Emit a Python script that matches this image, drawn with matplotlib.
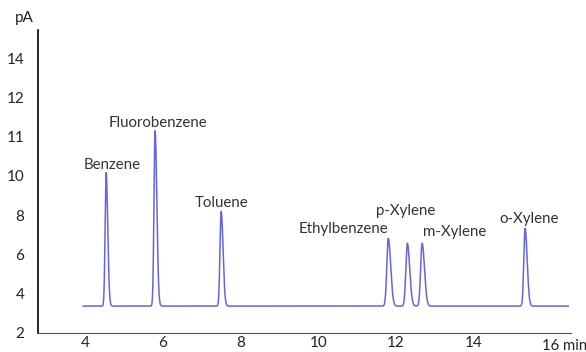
import numpy as np
import matplotlib
matplotlib.use("Agg")
import matplotlib.pyplot as plt

# Peak table (retention time in min, apex on the axis scale)
compounds = ['Benzene', 'Fluorobenzene', 'Toluene', 'Ethylbenzene', 'p-Xylene', 'm-Xylene', 'o-Xylene']
ret_times = [4.54, 5.80, 7.50, 11.80, 12.29, 12.67, 15.32]
apex = [10.17, 12.30, 8.19, 6.82, 6.57, 6.57, 7.33]
widths = [0.026, 0.028, 0.030, 0.038, 0.038, 0.038, 0.033]
baseline = 3.37
run_start, run_end = 3.95, 16.43

# where each label sits (time, height)
label_x = [4.69, 5.88, 7.50, 10.64, 12.24, 13.52, 15.43]
label_y = [10.55, 12.70, 8.60, 7.30, 8.20, 7.15, 7.80]

# the y axis is evenly spaced but labelled oddly
ytick_pos = [2, 4, 6, 8, 10, 12, 14, 16]
ytick_lab = ['2', '4', '6', '8', '10', '11', '12', '14']
xtick_pos = [4, 6, 8, 10, 12, 14]
xtick_lab = ['4', '6', '8', '10', '12', '14']
last_tick, last_lab = 16, '16 min'

plt.rcParams['font.family'] = ['Lato', 'DejaVu Sans']

t = np.linspace(run_start, run_end, 6000)
signal = np.full_like(t, baseline)
for rt, h, w in zip(ret_times, apex, widths):
    # slight tailing on the back side of each peak
    s = np.where(t < rt, w, w * 1.6)
    signal += (h - baseline) * np.exp(-0.5 * ((t - rt) / s) ** 2)

fig = plt.figure(figsize=(5.86, 3.52), dpi=100)
ax = fig.add_axes([0.065, 0.054, 0.91, 0.861])
ax.plot(t, signal, color='#6464e6', lw=1.1)

for name, x, y in zip(compounds, label_x, label_y):
    ax.text(x, y, name, ha='center', va='center', fontsize=10.8, color='#333333')

ax.set_xlim(2.79, 16.51)
ax.set_ylim(2, 17.43)
ax.set_xticks(xtick_pos)
ax.set_xticklabels(xtick_lab)
ax.set_yticks(ytick_pos)
ax.set_yticklabels(ytick_lab)
ax.tick_params(length=0, labelsize=11, colors='#222222')
ax.tick_params(axis='y', pad=10)
ax.tick_params(axis='x', pad=2)

# "16 min" drawn on its own so the "16" sits over the tick and the unit stays inside
ax.annotate(last_lab, xy=(last_tick, 0), xycoords=('data', 'axes fraction'),
            xytext=(-6.5, -4.5), textcoords='offset points', ha='left', va='top',
            fontsize=10.7, color='#222222', annotation_clip=False)

ax.spines['top'].set_visible(False)
ax.spines['right'].set_visible(False)
ax.spines['left'].set_linewidth(1.2)
ax.spines['bottom'].set_color('#555555')
fig.text(24 / 586, 1 - 18 / 352, 'pA', ha='center', va='center', fontsize=11, color='#222222')

fig.savefig('out.png', dpi=100)
